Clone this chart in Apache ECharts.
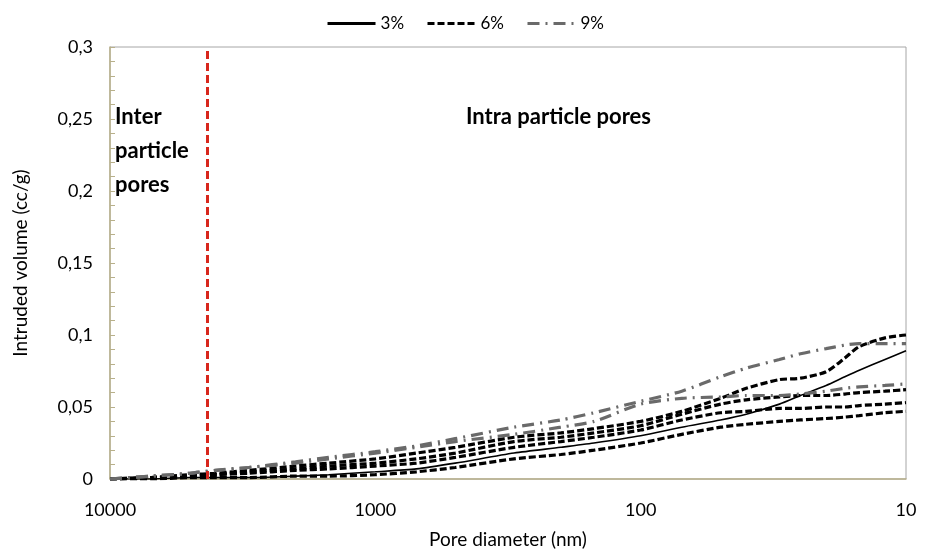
<!DOCTYPE html>
<html>
<head>
<meta charset="utf-8">
<script src="https://cdn.jsdelivr.net/npm/echarts@6/dist/echarts.min.js"></script>
<style>
  html, body { margin: 0; padding: 0; background: #fff; }
  #chart { width: 930px; height: 554px; }
</style>
</head>
<body>
<div id="chart"></div>
<script>
// pore diameters (nm), shared by every curve
const diameters = [10000, 7000, 5000, 4000, 3000, 2000, 1500, 1000, 700, 500, 300, 200, 150, 100, 70, 50, 40, 30, 25, 20, 17, 15, 12, 10];

// 3% : one solid curve
const vol3 = [0, 0, 0.001, 0.001, 0.001, 0.002, 0.003, 0.005, 0.007, 0.011, 0.018, 0.022, 0.025, 0.030, 0.036, 0.041, 0.045, 0.052, 0.058, 0.065, 0.071, 0.0755, 0.083, 0.089];

// 6% : four dashed curves
const vol6a = [0, 0.001, 0.003, 0.004, 0.006, 0.009, 0.011, 0.014, 0.018, 0.022, 0.029, 0.032, 0.035, 0.040, 0.047, 0.056, 0.063, 0.069, 0.070, 0.0745, 0.084, 0.092, 0.098, 0.100];
const vol6b = [0, 0.001, 0.002, 0.003, 0.005, 0.007, 0.009, 0.011, 0.014, 0.018, 0.026, 0.029, 0.032, 0.037, 0.045, 0.052, 0.055, 0.057, 0.058, 0.058, 0.059, 0.060, 0.061, 0.062];
const vol6c = [0, 0.001, 0.002, 0.003, 0.004, 0.006, 0.007, 0.009, 0.011, 0.015, 0.022, 0.026, 0.029, 0.034, 0.041, 0.046, 0.047, 0.049, 0.049, 0.050, 0.050, 0.051, 0.052, 0.053];
const vol6d = [0, 0, 0.001, 0.001, 0.001, 0.002, 0.002, 0.003, 0.005, 0.008, 0.014, 0.017, 0.020, 0.025, 0.031, 0.036, 0.038, 0.040, 0.041, 0.042, 0.043, 0.044, 0.046, 0.047];

// 9% : two dash-dot curves
const vol9a = [0, 0.002, 0.004, 0.006, 0.008, 0.012, 0.015, 0.019, 0.023, 0.028, 0.036, 0.041, 0.046, 0.054, 0.061, 0.071, 0.077, 0.083, 0.087, 0.0905, 0.093, 0.094, 0.094, 0.094];
const vol9b = [0, 0.002, 0.004, 0.006, 0.008, 0.011, 0.014, 0.018, 0.022, 0.026, 0.031, 0.036, 0.040, 0.052, 0.056, 0.057, 0.058, 0.058, 0.059, 0.061, 0.063, 0.064, 0.065, 0.066];

// limit between inter and intra particle pores (nm)
const interLimit = 4300;

const legendNames = ['3%', '6%', '9%'];

function pairs(values) {
  return diameters.map((d, i) => [d, values[i]]);
}

const solidStyle = { color: '#000', width: 1.6, type: 'solid' };
const dashStyle = { color: '#000', width: 3.2, type: [7, 3] };
const dashDotStyle = { color: '#6a6a6a', width: 3.2, type: [12, 6, 2, 6] };

function makeLine(name, values, style) {
  return {
    name: name,
    type: 'line',
    data: pairs(values),
    showSymbol: false,
    symbol: 'none',
    smooth: 0.25,
    itemStyle: { color: style.color },
    lineStyle: style,
    z: 3
  };
}

let chart = echarts.init(document.getElementById('chart'));

let series = [
  makeLine('3%', vol3, solidStyle),
  makeLine('6%', vol6a, dashStyle),
  makeLine('6%', vol6b, dashStyle),
  makeLine('6%', vol6c, dashStyle),
  makeLine('6%', vol6d, dashStyle),
  makeLine('9%', vol9a, dashDotStyle),
  makeLine('9%', vol9b, dashDotStyle)
];
// red dashed boundary
series[0].markLine = {
  silent: true,
  symbol: 'none',
  label: { show: false },
  lineStyle: { color: '#d8261c', width: 3, type: [8, 4] },
  data: [{ xAxis: interLimit }]
};

let option = {
  animation: false,
  backgroundColor: '#fff',
  textStyle: { fontFamily: 'Lato' },
  legend: {
    data: legendNames,
    top: 10,
    left: 'center',
    itemWidth: 48,
    itemHeight: 14,
    itemGap: 22,
    itemStyle: { opacity: 0 },
    lineStyle: { width: 3 },
    textStyle: { color: '#000', fontSize: 17, fontFamily: 'Lato' }
  },
  grid: {
    left: 110,
    right: 24,
    top: 47,
    bottom: 73,
    show: true,
    borderColor: '#a6a6a6',
    borderWidth: 1
  },
  xAxis: {
    type: 'log',
    logBase: 10,
    min: 10,
    max: 10000,
    inverse: true,
    name: 'Pore diameter (nm)',
    nameLocation: 'middle',
    nameGap: 51,
    nameTextStyle: { color: '#000', fontSize: 19, fontFamily: 'Lato' },
    axisLine: { lineStyle: { color: '#b8b08a', width: 1.5 } },
    axisTick: { show: false },
    splitLine: { show: false },
    axisLabel: {
      color: '#000',
      fontSize: 18,
      margin: 22,
      fontFamily: 'Lato',
      formatter: v => String(Math.round(v))
    }
  },
  yAxis: {
    type: 'value',
    min: 0,
    max: 0.3,
    interval: 0.05,
    name: 'Intruded volume (cc/g)',
    nameLocation: 'middle',
    nameGap: 80,
    nameTextStyle: { color: '#000', fontSize: 19, fontFamily: 'Lato' },
    axisLine: { show: true, lineStyle: { color: '#b8b08a', width: 1.5 } },
    axisTick: { show: true, inside: true, length: 5, lineStyle: { color: '#b8b08a' } },
    minorTick: { show: true, splitNumber: 5, length: 5, lineStyle: { color: '#b8b08a' } },
    splitLine: { show: false },
    axisLabel: {
      color: '#000',
      fontSize: 18,
      margin: 17,
      fontFamily: 'Lato',
      formatter: v => String(parseFloat(v.toFixed(2))).replace('.', ',')
    }
  },
  graphic: [
    {
      type: 'text',
      left: 115,
      top: 100,
      style: {
        text: 'Inter\nparticle\npores',
        font: 'bold 22px Lato',
        lineHeight: 34,
        fill: '#000'
      }
    },
    {
      type: 'text',
      left: 466,
      top: 106,
      style: {
        text: 'Intra particle pores',
        font: 'bold 22px Lato',
        fill: '#000'
      }
    }
  ],
  series: series
};

chart.setOption(option);
</script>
</body>
</html>
